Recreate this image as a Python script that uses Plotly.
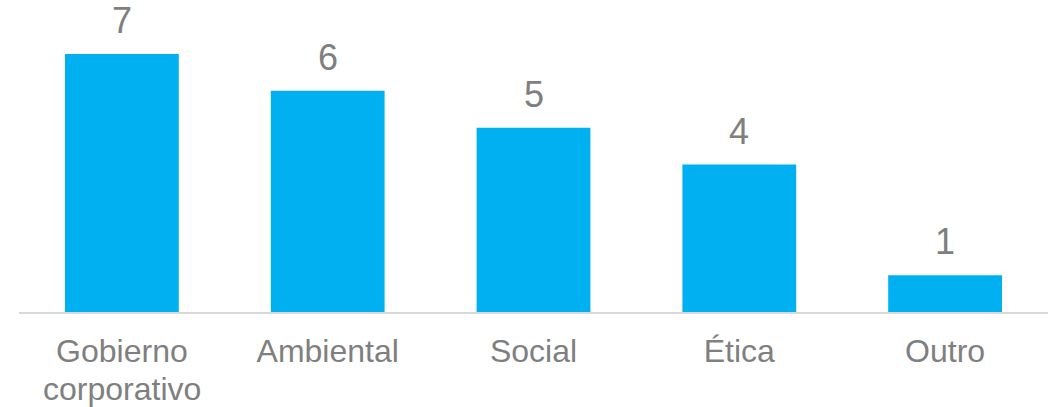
import plotly.graph_objects as go

categories = ["Gobierno corporativo", "Ambiental", "Social", "Ética", "Outro"]
values = [7, 6, 5, 4, 1]

first_lines = ["Gobierno", "Ambiental", "Social", "Ética", "Outro"]
second_lines = ["corporativo", "", "", "", ""]

gray = "#7F7F7F"
font_family = "Liberation Sans, Arial, sans-serif"

fig = go.Figure(go.Bar(
    x=categories, y=values,
    marker=dict(color="#00B0F0", line=dict(width=0)),
    hoverinfo="skip",
))

annotations = []
for c, v in zip(categories, values):
    annotations.append(dict(x=c, y=v, xref="x", yref="y", text=str(v),
                            showarrow=False, yanchor="bottom", yshift=11,
                            font=dict(size=36, color=gray, family=font_family)))
for c, s in zip(categories, second_lines):
    if s:
        annotations.append(dict(x=c, y=0, xref="x", yref="y", text=s,
                                showarrow=False, yanchor="top", yshift=-57,
                                font=dict(size=32, color=gray, family=font_family)))

fig.update_layout(
    width=1056, height=407,
    margin=dict(l=19, r=8, t=0, b=95),
    paper_bgcolor="white", plot_bgcolor="white",
    bargap=0.447,
    showlegend=False,
    annotations=annotations,
    font=dict(family=font_family, color=gray),
)
fig.update_xaxes(
    tickmode="array", tickvals=categories, ticktext=first_lines,
    tickfont=dict(size=32, color=gray, family=font_family),
    ticklabelstandoff=10,
    showline=True, linecolor="#D9D9D9", linewidth=2,
    ticks="", showgrid=False, zeroline=False,
)
fig.update_yaxes(range=[0, 8.465], visible=False, showgrid=False, zeroline=False)

fig.write_html("out.html")
